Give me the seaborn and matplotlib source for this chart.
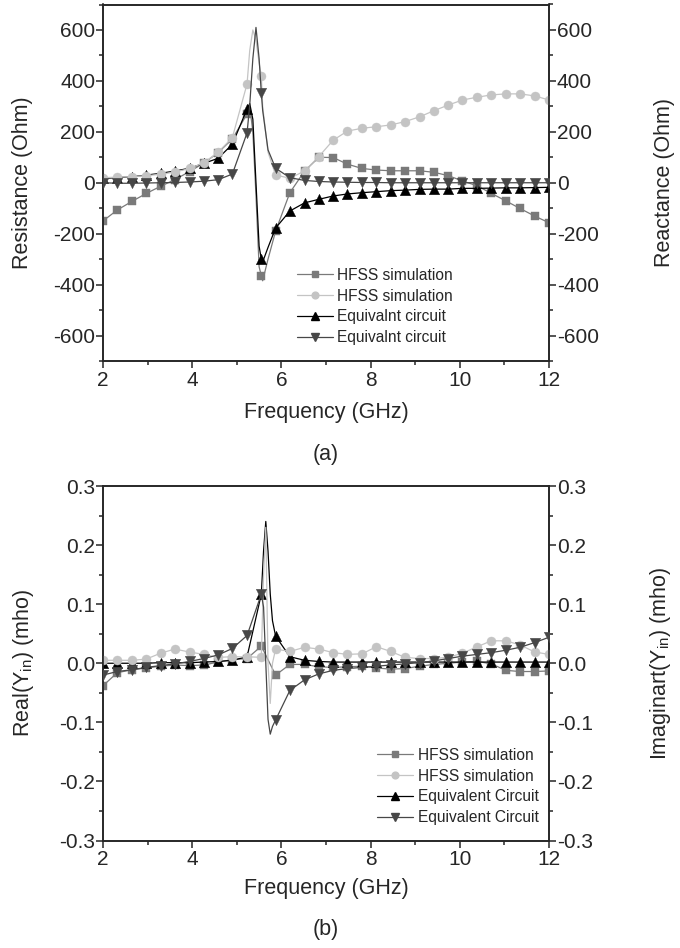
import numpy as np
import pandas as pd
import matplotlib
matplotlib.use("Agg")
import matplotlib.pyplot as plt
from matplotlib.lines import Line2D
from matplotlib.ticker import MultipleLocator
import seaborn as sns

sns.set_style("ticks")
plt.rcParams['font.family'] = ['Liberation Sans', 'DejaVu Sans']
plt.rcParams['mathtext.fontset'] = 'custom'
plt.rcParams['mathtext.rm'] = 'Liberation Sans'
plt.rcParams['mathtext.it'] = 'Liberation Sans:italic'
plt.rcParams['axes.unicode_minus'] = False

# ---------------- data ----------------
freq = [2.00, 2.32, 2.65, 2.97, 3.29, 3.61, 3.94, 4.26, 4.58, 4.90, 5.23, 5.55,
        5.87, 6.19, 6.52, 6.84, 7.16, 7.48, 7.81, 8.13, 8.45, 8.77, 9.10, 9.42,
        9.74, 10.06, 10.39, 10.71, 11.03, 11.35, 11.68, 12.00]

# (a) impedance, Ohm
hfss_sq_a = [-150, -107, -73, -42, -14, 12, 44, 77, 118, 172, 270, -365,
             -190, -39, 46, 100, 99, 73, 56, 50, 47, 47, 47, 41,
             28, 7, -12, -42, -71, -101, -131, -157]
hfss_ci_a = [20, 22, 24, 28, 33, 42, 56, 78, 120, 177, 388, 419,
             30, 18, 46, 103, 167, 203, 214, 220, 227, 240, 259, 283,
             305, 325, 336, 345, 349, 349, 341, 325]
eq_up_a = [17, 20, 24, 30, 37, 46, 57, 76, 96, 151, 290, -300,
           -178, -111, -79, -65, -52, -44, -39, -35, -31, -29, -26, -25,
           -25, -22, -22, -21, -20, -20, -19, -18]
eq_dn_a = [0, -2, -2, -1, 0, 1, 3, 6, 12, 34, 196, 352,
           57, 20, 9, 5, 3, 2, 1, 1, 0, 0, 0, 0,
           0, 0, 0, 0, 0, 0, 0, 0]
# extra (unmarked) curve points around the resonance
res_f_a = [5.29, 5.36, 5.43, 5.50, 5.58, 5.70]
hfss_sq_a_res = [300, 200, -50, -330, -385, -300]
hfss_ci_a_res = [520, 600, 560, 470, 300, 120]
eq_up_a_res = [311, 249, 0, -249, -311, -254]
eq_dn_a_res = [305, 488, 610, 488, 284, 129]

# (b) admittance, mho
hfss_sq_b = [-0.038, -0.016, -0.011, -0.008, -0.005, -0.003, -0.004, -0.003,
             0.002, 0.006, 0.008, 0.029, -0.020, -0.002, -0.002, -0.006,
             -0.007, -0.006, -0.005, -0.008, -0.010, -0.009, -0.005, -0.002,
             0.000, 0.002, 0.003, -0.001, -0.012, -0.014, -0.014, -0.013]
hfss_ci_b = [0.005, 0.005, 0.005, 0.007, 0.017, 0.024, 0.019, 0.015,
             0.010, 0.011, 0.011, 0.010, 0.024, 0.020, 0.027, 0.024,
             0.018, 0.015, 0.016, 0.028, 0.020, 0.010, 0.008, 0.008,
             0.010, 0.017, 0.028, 0.038, 0.038, 0.031, 0.019, 0.015]
eq_up_b = [0.000, 0.000, 0.000, 0.000, 0.001, 0.001, 0.001, 0.002,
           0.003, 0.005, 0.011, 0.117, 0.046, 0.011, 0.005, 0.003,
           0.002, 0.002, 0.002, 0.002, 0.002, 0.002, 0.002, 0.002,
           0.002, 0.002, 0.002, 0.002, 0.002, 0.002, 0.002, 0.002]
eq_dn_b = [-0.020, -0.014, -0.011, -0.007, -0.004, -0.001, 0.003, 0.008,
           0.014, 0.025, 0.047, 0.117, -0.096, -0.046, -0.028, -0.018,
           -0.012, -0.009, -0.007, -0.005, -0.003, -0.001, 0.001, 0.004,
           0.008, 0.012, 0.015, 0.018, 0.022, 0.027, 0.035, 0.044]
res_f_b = [5.60, 5.65, 5.70, 5.75, 5.80]
hfss_ci_b_res = [0.150, 0.230, 0.000, -0.068, 0.000]
eq_up_b_res = [0.190, 0.240, 0.190, 0.117, 0.072]
eq_dn_b_res = [0.095, 0.000, -0.095, -0.120, -0.107]

labels_a = ["HFSS simulation", "HFSS simulation", "Equivalnt circuit", "Equivalnt circuit"]
labels_b = ["HFSS simulation", "HFSS simulation", "Equivalent Circuit", "Equivalent Circuit"]

# ---------------- styles ----------------
C_SQ = "#7a7a7a"
C_CI = "#c4c4c4"
C_UP = "#000000"
C_DN = "#474747"
styles = [(C_SQ, 's', 5.5), (C_CI, 'o', 6.5), (C_UP, '^', 7.5), (C_DN, 'v', 7.5)]

FS = 15.5
TS = 15


def draw_series(ax, fx, fy, rx, ry, color, marker, ms, z):
    # continuous curve = marker points plus extra resonance points
    cx = list(fx) + list(rx)
    cy = list(fy) + list(ry)
    df = pd.DataFrame({"f": cx, "v": cy}).sort_values("f")
    sns.lineplot(data=df, x="f", y="v", ax=ax, color=color, lw=0.9,
                 estimator=None, sort=True, zorder=z)
    dm = pd.DataFrame({"f": fx, "v": fy})
    sns.scatterplot(data=dm, x="f", y="v", ax=ax, color=color, marker=marker,
                    s=ms ** 2, edgecolor=color, linewidth=0.3, zorder=z + 0.5)


def style_axes(ax, ax2, ylim, major, minor, fmt):
    for a in (ax, ax2):
        a.set_xlim(2, 12)
        a.set_ylim(*ylim)
        a.xaxis.set_major_locator(MultipleLocator(2))
        a.xaxis.set_minor_locator(MultipleLocator(1))
        a.yaxis.set_major_locator(MultipleLocator(major))
        a.yaxis.set_minor_locator(MultipleLocator(minor))
        a.tick_params(which='major', direction='out', length=5, width=1.1,
                      labelsize=TS, pad=2)
        a.tick_params(axis='y', which='major', pad=0.5)
        a.tick_params(which='minor', direction='out', length=3, width=1.1)
        for sp in a.spines.values():
            sp.set_linewidth(1.2)
            sp.set_visible(True)
        a.set_xlabel("")
        a.set_ylabel("")
    ax.tick_params(axis='x', top=False, which='both')
    ax2.tick_params(axis='x', top=False, which='both')
    ax.yaxis.set_major_formatter(fmt)
    ax2.yaxis.set_major_formatter(fmt)


fig = plt.figure(figsize=(6.8, 9.48), dpi=100)

leg_kw = dict(frameon=False, fontsize=11.2, handlelength=2.3, handletextpad=0.3,
              labelspacing=0.38, borderpad=0, borderaxespad=0)

# ---------------- panel (a) ----------------
axa = fig.add_axes([103 / 680, 1 - 361 / 948, 446 / 680, 356.5 / 948])
axa2 = axa.twinx()
draw_series(axa, freq, hfss_sq_a, res_f_a, hfss_sq_a_res, C_SQ, 's', 5.5, 2)
draw_series(axa, freq, eq_up_a, res_f_a, eq_up_a_res, C_UP, '^', 7.5, 4)
draw_series(axa2, freq, hfss_ci_a, res_f_a, hfss_ci_a_res, C_CI, 'o', 6.5, 2)
draw_series(axa2, freq, eq_dn_a, res_f_a, eq_dn_a_res, C_DN, 'v', 7.5, 4)
style_axes(axa, axa2, (-700, 700), 200, 100, matplotlib.ticker.FormatStrFormatter('%d'))
axa.set_ylabel("Resistance (Ohm)", fontsize=FS, labelpad=15)
axa2.set_ylabel("Reactance (Ohm)", fontsize=FS, labelpad=40)
axa.set_xlabel("Frequency (GHz)", fontsize=FS, labelpad=9)

handles = [Line2D([], [], color=c, marker=m, markersize=s * 0.75, lw=0.9)
           for c, m, s in styles]
axa2.legend(handles, labels_a, loc='upper left', bbox_to_anchor=(0.435, 0.262),
            **leg_kw)
fig.text(326 / 680, 1 - 455 / 948, "(a)", ha='center', va='center', fontsize=FS)

# ---------------- panel (b) ----------------
axb = fig.add_axes([103 / 680, 1 - 840.5 / 948, 446 / 680, 354.5 / 948])
axb2 = axb.twinx()
draw_series(axb, freq, hfss_sq_b, [], [], C_SQ, 's', 5.5, 2)
draw_series(axb, freq, eq_up_b, res_f_b, eq_up_b_res, C_UP, '^', 7.5, 4)
draw_series(axb2, freq, hfss_ci_b, res_f_b, hfss_ci_b_res, C_CI, 'o', 6.5, 2)
draw_series(axb2, freq, eq_dn_b, res_f_b, eq_dn_b_res, C_DN, 'v', 7.5, 4)
style_axes(axb, axb2, (-0.3, 0.3), 0.1, 0.05, matplotlib.ticker.FormatStrFormatter('%.1f'))
axb.set_ylabel(r"Real(Y$_{\mathrm{in}}$) (mho)", fontsize=FS, labelpad=17)
axb2.set_ylabel(r"Imaginart(Y$_{\mathrm{in}}$) (mho)", fontsize=FS, labelpad=40)
axb.set_xlabel("Frequency (GHz)", fontsize=FS, labelpad=6)
axb2.legend(handles, labels_b, loc='upper left', bbox_to_anchor=(0.615, 0.262),
            **leg_kw)
fig.text(326 / 680, 1 - 930 / 948, "(b)", ha='center', va='center', fontsize=FS)

fig.savefig("out.png", dpi=100, facecolor="white")
